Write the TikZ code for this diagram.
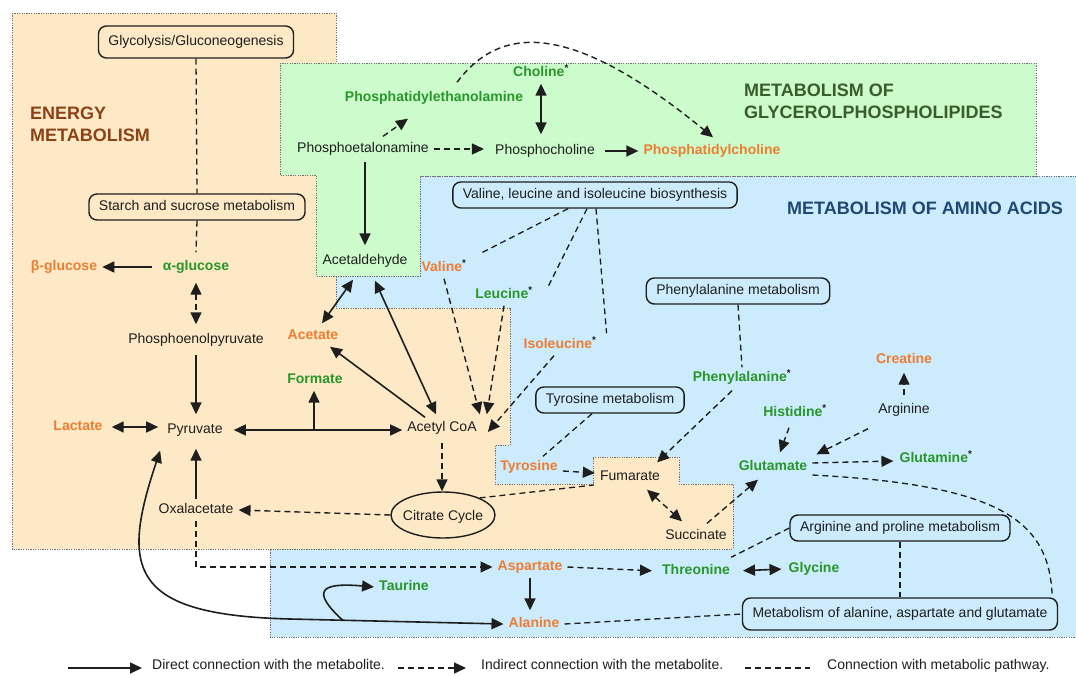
\documentclass[tikz,border=0pt]{standalone}
\usepackage{fontspec}
\setmainfont{Liberation Sans}
\usetikzlibrary{arrows.meta,shapes.geometric,calc}
\definecolor{txt}{RGB}{30,30,30}
\definecolor{orgc}{RGB}{237,125,49}
\definecolor{grnc}{RGB}{40,150,40}
\definecolor{brn}{RGB}{140,66,22}
\definecolor{dgr}{RGB}{58,92,42}
\definecolor{dbl}{RGB}{32,72,112}
\definecolor{beigef}{RGB}{253,233,198}
\definecolor{greenf}{RGB}{204,252,204}
\definecolor{bluef}{RGB}{204,235,252}
\definecolor{edge}{RGB}{110,110,110}
\newcommand{\fs}{\fontsize{14}{16}\selectfont}
\newcommand{\tfs}{\fontsize{18}{22}\selectfont}
\newcommand{\st}{\textsuperscript{\color{txt}*}}
\begin{document}
\begin{tikzpicture}[x=1pt,y=-1pt,
  m/.style={font=\fs, text=txt, inner xsep=5pt, inner ysep=4pt, text height=10pt, text depth=3pt},
  org/.style={m, font=\fs\bfseries, text=orgc},
  grn/.style={m, font=\fs\bfseries, text=grnc},
  pbox/.style={m, draw=txt, line width=1.4pt, rounded corners=8pt, minimum height=26pt, inner xsep=10pt, inner ysep=0pt},
  ttl/.style={font=\tfs\bfseries, inner sep=0pt, anchor=west, align=left},
  sol/.style={line width=1.6pt, draw=txt},
  ind/.style={line width=1.4pt, draw=txt, dash pattern=on 6pt off 4pt},
  pw/.style={line width=1.3pt, draw=txt, dash pattern=on 6pt off 4pt},
  >={Triangle[length=12pt,width=11pt]},
  region/.style={draw=edge, line width=0.8pt, dash pattern=on 1.2pt off 1.2pt}]
\useasboundingbox (0,0) rectangle (1076,675);
\fill[white] (0,0) rectangle (1076,675);
% regions
\draw[region, fill=bluef] (420,176) -- (1076,176) -- (1076,637) -- (270,637) -- (270,549) -- (335,549) -- (335,276) -- (420,276) -- cycle;
\draw[region, fill=beigef] (12,13) -- (336,13) -- (336,308) -- (510,308) -- (510,445) -- (495,445) -- (495,484) -- (593,484) -- (593,457) -- (679,457) -- (679,484) -- (733,484) -- (733,549) -- (12,549) -- cycle;
\draw[region, fill=greenf] (280,63) -- (1036,63) -- (1036,176) -- (420,176) -- (420,276) -- (316,276) -- (316,175) -- (280,175) -- cycle;
% titles
\node[ttl, text=brn] (tE) at (30,124) {ENERGY\\METABOLISM};
\node[ttl, text=dgr] (tG) at (744,101.5) {METABOLISM OF\\GLYCEROLPHOSPHOLIPIDES};
\node[ttl, text=dbl] (tA) at (787,208) {METABOLISM OF AMINO ACIDS};
% nodes
\node[pbox, minimum height=32pt] (glyc) at (196,42) {Glycolysis/Gluconeogenesis};
\node[pbox] (starch) at (197,207) {Starch and sucrose metabolism};
\node[org] (bglc) at (64,267) {β-glucose};
\node[grn] (aglc) at (196,267) {α-glucose};
\node[m] (pep) at (196,340) {Phosphoenolpyruvate};
\node[m] (pyr) at (195,430) {Pyruvate};
\node[org] (lac) at (78,427) {Lactate};
\node[grn] (form) at (315,380) {Formate};
\node[m] (acoa) at (442,428) {Acetyl CoA};
\node[org] (acet) at (313,336) {Acetate};
\node[m] (acald) at (365,261) {Acetaldehyde};
\node[m] (petn) at (363,149) {Phosphoetalonamine};
\node[grn] (pe) at (434,98) {Phosphatidylethanolamine};
\node[m] (pcho) at (545,151) {Phosphocholine};
\node[grn] (chol) at (541,73) {Choline\st};
\node[org] (pc) at (712,151) {Phosphatidylcholine};
\node[pbox] (vli) at (595,195) {Valine, leucine and isoleucine biosynthesis};
\node[org] (val) at (444,268) {Valine\st};
\node[grn] (leu) at (504,295) {Leucine\st};
\node[org] (ile) at (560,345) {Isoleucine\st};
\node[m, draw=txt, line width=1.4pt, ellipse, minimum width=104pt, minimum height=46pt, inner sep=0pt, text height=0pt, text depth=0pt] (cit) at (443,515) {\makebox[0pt]{\smash{\raisebox{-5pt}{Citrate Cycle}}}};
\node[m] (oxa) at (196,510) {Oxalacetate};
\node[org] (asp) at (530,567) {Aspartate};
\node[org] (ala) at (534,624) {Alanine};
\node[grn] (tau) at (404,587) {Taurine};
\node[grn] (thr) at (696,571) {Threonine};
\node[grn] (gly) at (814,569) {Glycine};
\node[pbox] (argpro) at (900,528) {Arginine and proline metabolism};
\node[pbox, minimum height=32pt] (maag) at (900,614) {Metabolism of alanine, aspartate and glutamate};
\node[m] (succ) at (696,536) {Succinate};
\node[m] (fum) at (630,477) {Fumarate};
\node[org] (tyr) at (529,467) {Tyrosine};
\node[pbox] (tyrmet) at (610,400) {Tyrosine metabolism};
\node[pbox] (phemet) at (738,291) {Phenylalanine metabolism};
\node[grn] (phe) at (742,378) {Phenylalanine\st};
\node[grn] (his) at (795,413) {Histidine\st};
\node[grn] (glu) at (773,467) {Glutamate};
\node[m] (arg) at (904,410) {Arginine};
\node[org] (crea) at (904,360) {Creatine};
\node[grn] (gln) at (936,459) {Glutamine\st};
% connectors: energy
\draw[sol,->,shorten <=6pt] (aglc.west) -- (bglc.east);
\draw[pw] (glyc.south) -- (starch.north);
\draw[pw] (starch.south) -- ($(aglc.north)+(0,-4)$);
\draw[ind,<->,shorten <=5pt,shorten >=5pt] (aglc.south) -- (pep.north);
\draw[sol,->,shorten <=4pt,shorten >=5pt] (pep.south) -- (pep.south |- pyr.north);
\draw[sol,<->,shorten <=4pt,shorten >=4pt] (lac.east) -- (lac.east -| pyr.west);
\draw[sol,<->,shorten <=6pt] (pyr.east) -- (pyr.east -| acoa.west);
\coordinate (fj) at (314,430);
\draw[sol,->] (fj) -- (fj |- form.south);
\draw[sol,->] ($(acoa.north)+(-17,0)$) -- ($(acet.south)+(17,0)$);
\draw[sol,<->] ($(acald.south)+(-12,8)$) -- ($(acet.north)+(9,-2)$);
\draw[sol,<->] ($(acald.south)+(10,9)$) -- ($(acoa.north)+(-6,-3)$);
% glycerophospholipids
\draw[sol,->,shorten <=2pt,shorten >=5pt] (petn.south -| acald.north) -- (acald.north);
\draw[ind,->] ($(petn.north)+(20,-2)$) -- ($(pe.south)+(-26,10)$);
\draw[ind,->,shorten >=6pt] (petn.east) -- (petn.east -| pcho.west);
\draw[sol,<->,shorten >=6pt] (chol.south) -- (chol.south |- pcho.north);
\draw[sol,->,shorten <=5pt] (pcho.east) -- (pcho.east -| pc.west);
\draw[ind,->] ($(pe.north)+(23,-5)$) .. controls (500,25) and (570,20) .. ($(pc.north)+(1,-3)$);
% amino acids
\draw[pw] ($(vli.south)+(-27,0)$) -- ($(val.north east)+(9,-4)$);
\draw[pw] ($(vli.south)+(-8,0)$) -- ($(leu.north east)+(10,3)$);
\draw[pw] ($(vli.south)+(1,0)$) -- ($(ile.north east)+(5,-1)$);
\draw[ind,->] (val.south) -- ($(acoa.north east)+(-2,-3)$);
\draw[ind,->] (leu.south) -- ($(acoa.north east)+(5,-3)$);
\draw[ind,->] ($(ile.south)+(-6,0)$) -- ($(acoa.east)+(6,4)$);
\draw[ind,->,shorten <=4pt] (acoa.south) -- (acoa.south |- cit.north);
\draw[ind,->] (cit.west) -- (oxa.east);
\draw[sol,->,shorten >=8pt] (oxa.north) -- (oxa.north |- pyr.south);
\draw[ind,->] (oxa.south) -- (oxa.south |- asp.west) -- (asp.west);
\draw[sol,->,shorten >=3pt] (asp.south) -- (asp.south |- ala.north);
\draw[sol,<->] ($(pyr.south west)+(-2,10)$) .. controls (120,570) and (130,615) .. (290,619) -- (ala.west);
\coordinate (tb) at (343,620.5);
\draw[sol,->] (tb) .. controls (312,592) and (318,582) .. (tau.west);
\draw[ind,->,shorten >=5pt] (asp.east) -- (thr.west);
\draw[sol,<->,shorten <=8pt,shorten >=2pt] (thr.east) -- (gly.west);
\draw[pw] (argpro.west) -- ($(thr.north east)+(-4,-3)$);
\draw[pw] (argpro.south) -- (maag.north);
\draw[pw] (ala.east) -- (maag.west);
\draw[pw] ($(glu.east)+(0,8)$) .. controls (1000,485) and (1050,520) .. ($(maag.north east)+(-6,0)$);
\draw[ind,->] ($(succ.north)+(11,-2)$) -- ($(glu.south)+(-15,2)$);
\draw[ind,<->] ($(fum.south)+(17,2)$) -- ($(succ.north)+(-14,-4)$);
\draw[pw] (cit.25) -- ($(fum.west)+(-1,8)$);
\draw[ind,->] ($(tyr.east)+(0,4)$) -- ($(fum.west)+(0,-4)$);
\draw[pw] ($(tyrmet.south)+(-18,0)$) -- ($(tyr.north)+(14,0)$);
\draw[pw] (phemet.south) -- (phe.north);
\draw[ind,->] ($(phe.south)+(-10,2)$) -- ($(fum.north east)+(-8,-4)$);
\draw[ind,->] ($(his.south)+(-6,4)$) -- ($(glu.north)+(7,-4)$);
\draw[ind,->] ($(arg.south west)+(-5,8)$) -- ($(glu.north east)+(4,-2)$);
\draw[ind,->,shorten <=4pt,shorten >=2pt] (arg.north) -- (crea.south);
\draw[ind,->] ($(glu.east)+(0,-4)$) -- ($(gln.west)+(-1,2)$);
% legend
\node[m, anchor=west] (l1) at (147,666) {Direct connection with the metabolite.};
\node[m, anchor=west] (l2) at (476,666) {Indirect connection with the metabolite.};
\node[m, anchor=west] (l3) at (822,666) {Connection with metabolic pathway.};
\coordinate (la1) at (68,668);
\coordinate (la2) at (398,668);
\coordinate (la3) at (745,668);
\draw[sol,->,shorten >=5pt] (la1) -- (la1 -| l1.west);
\draw[ind,->,shorten >=10pt] (la2) -- (la2 -| l2.west);
\draw[pw,shorten >=12pt] (la3) -- (la3 -| l3.west);
\end{tikzpicture}
\end{document}
